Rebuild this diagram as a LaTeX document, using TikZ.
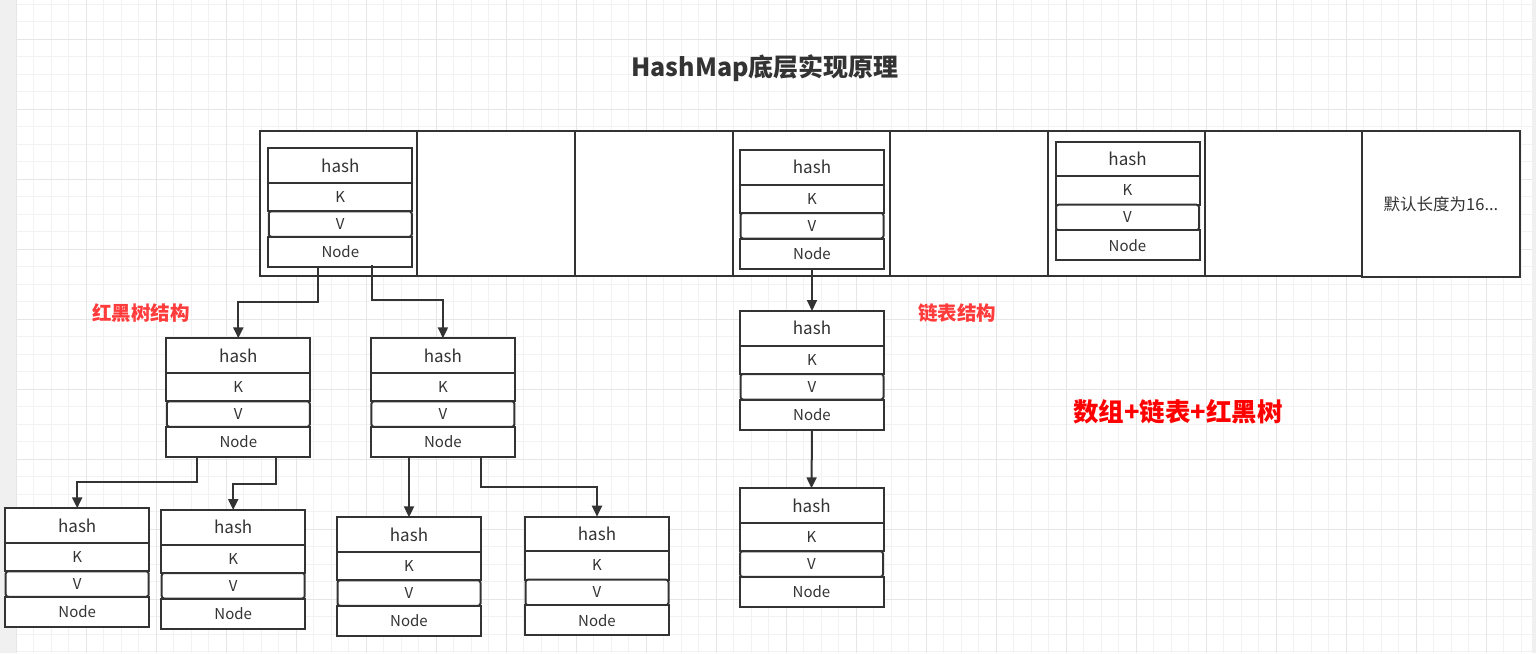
\documentclass[tikz,border=0pt]{standalone}
\usepackage{fontspec}
\setmainfont{Noto Sans CJK SC}
\usetikzlibrary{arrows.meta,calc}
\definecolor{ink}{HTML}{333333}
\definecolor{gridminor}{HTML}{F2F2F2}
\definecolor{gridmajor}{HTML}{E6E6E6}
\definecolor{strip}{HTML}{F0F0F0}
\definecolor{redA}{HTML}{FF0000}
\definecolor{redB}{HTML}{FF3B3B}
\tikzset{
  rowbase/.style={draw=ink, line width=2pt, fill=white, inner sep=0pt, outer sep=0pt, text=ink, minimum width=144pt},
  hrow/.style={rowbase, minimum height=34.5pt, font=\fontsize{17}{19}\selectfont},
  krow/.style={rowbase, minimum height=28.5pt, font=\fontsize{15}{17}\selectfont},
  vrow/.style={rowbase, minimum height=25.5pt, minimum width=143pt, rounded corners=2.5pt, font=\fontsize{15}{17}\selectfont},
  nrow/.style={rowbase, minimum height=30pt, font=\fontsize{15}{17}\selectfont},
  cellbox/.style={draw=ink, line width=2pt, fill=white, inner sep=0pt, outer sep=0pt, anchor=north west},
  conn/.style={draw=ink, line width=2pt, -{Triangle[length=11pt,width=10pt]}},
  redlabel/.style={text=redB, font=\fontsize{19.5}{21}\selectfont\bfseries, inner sep=0pt},
}
\newcommand\hrecord[3]{%
  \node[hrow, anchor=north west] (#1h) at (#2,#3) {hash};
  \node[krow, anchor=north] (#1k) at (#1h.south) {K};
  \node[vrow, anchor=north] (#1v) at (#1k.south) {V};
  \node[nrow, anchor=north] (#1n) at (#1v.south) {Node};
}
\begin{document}
\begin{tikzpicture}[x=1pt,y=-1pt]
\useasboundingbox (0,0) rectangle (1536,653);
% background
\fill[white] (0,0) rectangle (1536,653);
\fill[strip] (0,0) rectangle (16,653);
\fill[strip] (1532,0) rectangle (1536,653);
\foreach \k in {0,...,86} {
  \pgfmathsetmacro\xx{16+17.5*\k}
  \draw[gridminor, line width=1pt] (\xx,0) -- (\xx,653);
}
\foreach \k in {-1,...,37} {
  \pgfmathsetmacro\yy{4.3+17.5*\k}
  \draw[gridminor, line width=1pt] (16,\yy) -- (1532,\yy);
}
\foreach \k in {0,...,21} {
  \pgfmathsetmacro\xx{16+70*\k}
  \draw[gridmajor, line width=1pt] (\xx,0) -- (\xx,653);
}
\foreach \k in {0,...,8} {
  \pgfmathsetmacro\yy{39.3+70*\k}
  \draw[gridmajor, line width=1pt] (16,\yy) -- (1532,\yy);
}
% title
\node[text=ink, font=\fontsize{25}{27}\selectfont\bfseries, inner sep=0pt] (title) at (765,68) {HashMap底层实现原理};
% array cells
\node[cellbox, minimum width=156.7pt, minimum height=144.5pt] (c1) at (260,131) {};
\node[cellbox, minimum width=158.3pt, minimum height=144.5pt] (c2) at (416.7,131) {};
\node[cellbox, minimum width=157.5pt, minimum height=144.5pt] (c3) at (575,131) {};
\node[cellbox, minimum width=157.5pt, minimum height=144.5pt] (c4) at (732.5,131) {};
\node[cellbox, minimum width=157.5pt, minimum height=144.5pt] (c5) at (890,131) {};
\node[cellbox, minimum width=157.5pt, minimum height=144.5pt] (c6) at (1047.5,131) {};
\node[cellbox, minimum width=157pt, minimum height=144.5pt] (c7) at (1205,131) {};
\node[cellbox, minimum width=158pt, minimum height=146pt, text=ink, font=\fontsize{16.5}{18}\selectfont] (c8) at (1362,131) {默认长度为16...};
% records in the array
\hrecord{R}{268.3}{148.3}
\hrecord{Q}{740}{150}
\hrecord{S}{1055.5}{141.7}
% red-black tree
\hrecord{TA}{166.3}{338.3}
\hrecord{TB}{370.9}{338.3}
\hrecord{LA}{5.2}{508.3}
\hrecord{LB}{161.2}{510}
\hrecord{LC}{337}{517.3}
\hrecord{LD}{525}{516.7}
% linked list
\hrecord{E}{740}{311}
\hrecord{F}{739.5}{488.3}
% labels
\node[redlabel] (lbtree) at (141,313) {红黑树结构};
\node[redlabel] (lblist) at (957,313) {链表结构};
\node[text=redA, font=\fontsize{25.5}{27}\selectfont\bfseries, inner sep=0pt] (lbsum) at (1178,411.5) {数组+链表+红黑树};
% connectors
\draw[conn] ([xshift=49.4pt]Rn.south west) -- ++(0,35.6) -| (TAh.north);
\draw[conn] ([xshift=103.7pt,yshift=1.5pt]Rn.south west) -- ++(0,34.2) -| (TBh.north);
\draw[conn] ([xshift=30.7pt]TAn.south west) -- ++(0,25) -| (LAh.north);
\draw[conn] ([xshift=109.2pt]TAn.south west) -- ++(0,27.3) -| (LBh.north);
\draw[conn] (TBn.south -| LCh.north) -- (LCh.north);
\draw[conn] ([xshift=110.1pt]TBn.south west) -- ++(0,29.7) -| (LDh.north);
\draw[conn] (Qn.south) -- (Eh.north);
\draw[conn] (En.south) -- (Fh.north);
\end{tikzpicture}
\end{document}
